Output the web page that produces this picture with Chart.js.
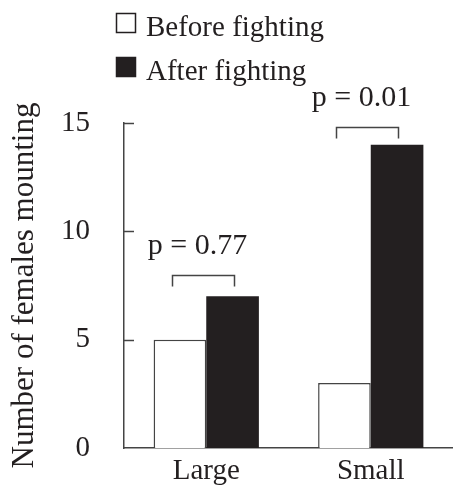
<!DOCTYPE html>
<html>
<head>
<meta charset="utf-8">
<script src="https://cdn.jsdelivr.net/npm/chart.js@4.4.1/dist/chart.umd.min.js"></script>
<style>
  html, body { margin: 0; padding: 0; background: #fff; }
  #wrap { width: 453px; height: 488px; position: relative; }
</style>
</head>
<body>
<div id="wrap"><canvas id="chart"></canvas></div>
<script>
    'use strict';

    // data
    const categories = ['Large', 'Small'];
    const seriesNames = ['Before fighting', 'After fighting'];
    const beforeValues = [5, 3];
    const afterValues = [7, 14];
    const yTicks = [0, 5, 10, 15];
    const pLabels = ['p = 0.77', 'p = 0.01'];
    const bracketLevels = [8.0, 14.8];

    const ink = '#231f20';
    const serif = '"Liberation Serif", "Times New Roman", serif';

    // legend, inward y ticks and p-value brackets are drawn by hand
    const decorations = {
        id: 'decorations',
        afterDraw(chart) {
            const ctx = chart.ctx;
            const y = chart.scales.y;
            const area = chart.chartArea;
            ctx.save();

            // inward tick marks on the y axis
            ctx.strokeStyle = '#444';
            ctx.lineWidth = 1.5;
            yTicks.forEach(function (v) {
                if (v === 0) return;
                const py = Math.round(y.getPixelForValue(v)) + 0.5;
                ctx.beginPath();
                ctx.moveTo(area.left, py);
                ctx.lineTo(area.left + 10, py);
                ctx.stroke();
            });

            // legend
            ctx.font = '29px ' + serif;
            ctx.textBaseline = 'alphabetic';
            ctx.textAlign = 'left';
            const boxes = [{ top: 13, fill: '#fff' }, { top: 57, fill: ink }];
            boxes.forEach(function (b, i) {
                ctx.fillStyle = b.fill;
                ctx.fillRect(116, b.top, 20, 20);
                ctx.strokeStyle = ink;
                ctx.lineWidth = 1.5;
                ctx.strokeRect(116.5, b.top + 0.5, 19, 19);
                ctx.fillStyle = ink;
                ctx.fillText(seriesNames[i], 146, b.top + 23);
            });

            // brackets with p values
            const before = chart.getDatasetMeta(0).data;
            const after = chart.getDatasetMeta(1).data;
            ctx.strokeStyle = '#444';
            ctx.lineWidth = 1.5;
            ctx.font = '30px ' + serif;
            ctx.textAlign = 'center';
            categories.forEach(function (c, i) {
                const x1 = Math.round(before[i].x - 8) + 0.5;
                const x2 = Math.round(after[i].x + 1) + 0.5;
                const top = Math.round(y.getPixelForValue(bracketLevels[i])) + 0.5;
                ctx.beginPath();
                ctx.moveTo(x1, top + 11);
                ctx.lineTo(x1, top);
                ctx.lineTo(x2, top);
                ctx.lineTo(x2, top + 11);
                ctx.stroke();
                ctx.fillStyle = ink;
                ctx.fillText(pLabels[i], (x1 + x2) / 2 - 6, top - 22);
            });

            ctx.restore();
        }
    };

    new Chart(document.getElementById('chart'), {
        type: 'bar',
        data: {
            labels: categories,
            datasets: [
                {
                    label: seriesNames[0],
                    data: beforeValues,
                    backgroundColor: '#fff',
                    borderColor: '#444',
                    borderWidth: { top: 1.5, left: 1.5, right: 1.5, bottom: 0 },
                    borderSkipped: false
                },
                {
                    label: seriesNames[1],
                    data: afterValues,
                    backgroundColor: ink,
                    borderWidth: 0
                }
            ]
        },
        options: {
            responsive: true,
            maintainAspectRatio: false,
            animation: false,
            categoryPercentage: 0.64,
            barPercentage: 1.0,
            layout: { padding: { top: 123, right: 0, left: 0, bottom: 0 } },
            plugins: { legend: { display: false }, tooltip: { enabled: false } },
            scales: {
                x: {
                    grid: { display: false, drawTicks: false },
                    border: { display: true, color: '#444', width: 1.5 },
                    ticks: { color: ink, font: { family: serif, size: 29 }, padding: 6 },
                    afterFit: s => { s.height = 40; }
                },
                y: {
                    min: 0,
                    max: 15,
                    afterBuildTicks: s => { s.ticks = yTicks.map(v => ({ value: v })); },
                    grid: { display: false, drawTicks: false },
                    border: { display: true, color: '#444', width: 1.5 },
                    ticks: { color: ink, font: { family: serif, size: 29 }, padding: 34 },
                    title: {
                        display: true,
                        text: 'Number of females mounting',
                        color: ink,
                        font: { family: serif, size: 31 },
                        padding: { top: 6, bottom: 0 }
                    },
                    // the big label padding must not push the plot area up
                    afterFit: s => { s.width = 124; s.paddingBottom = 0; }
                }
            }
        },
        plugins: [decorations]
    });
</script>
</body>
</html>
